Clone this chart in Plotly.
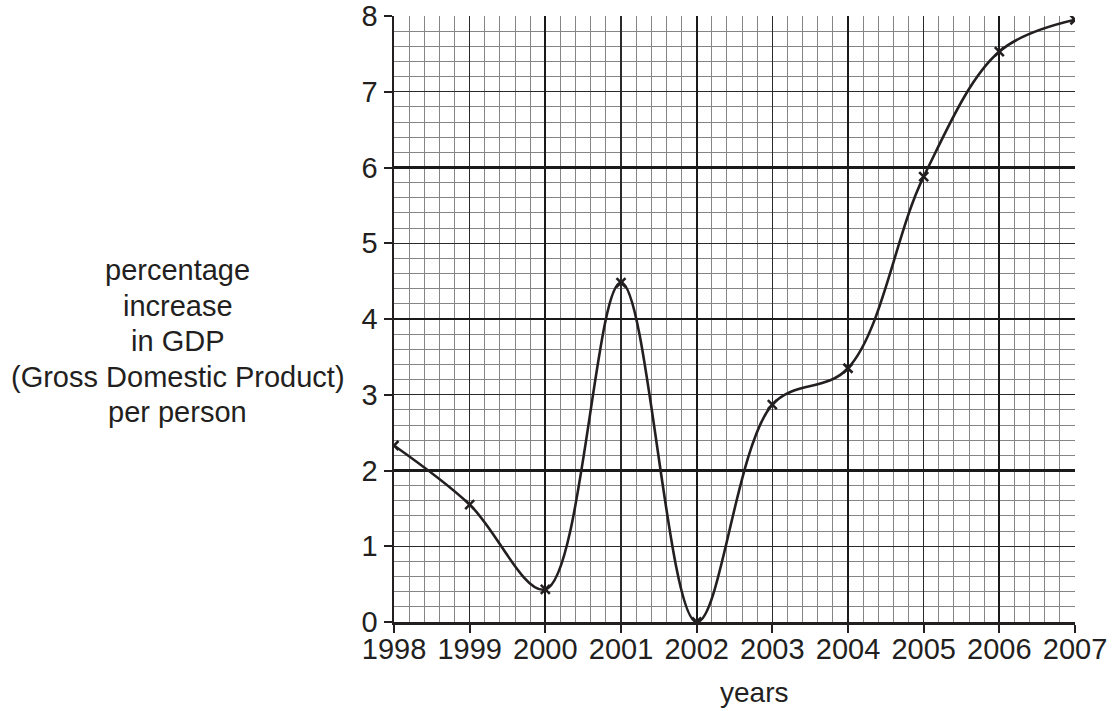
import plotly.graph_objects as go

years = [1998, 1999, 2000, 2001, 2002, 2003, 2004, 2005, 2006, 2007]
gdp_increase = [2.33, 1.55, 0.43, 4.48, 0.0, 2.87, 3.35, 5.88, 7.53, 7.95]
x_ticks = [1998, 1999, 2000, 2001, 2002, 2003, 2004, 2005, 2006, 2007]
y_ticks = [0, 1, 2, 3, 4, 5, 6, 7, 8]
x_title = "years"
y_title_lines = ["percentage", "increase", "in GDP", "(Gross Domestic Product)", "per person"]

INK = "#231f20"
FONT = "Liberation Sans, Arial, sans-serif"
XR = [x_ticks[0], x_ticks[-1]]
YR = [y_ticks[0], y_ticks[-1]]

W, H = 1115, 711
L, R, T, B = 394, 40, 16, 89

fig = go.Figure()
# empty traces so every grid layer subplot is drawn
fig.add_trace(go.Scatter(x=[], y=[], xaxis="x", yaxis="y", showlegend=False, hoverinfo="skip"))
fig.add_trace(go.Scatter(x=[], y=[], xaxis="x2", yaxis="y2", showlegend=False, hoverinfo="skip"))
fig.add_trace(go.Scatter(
    x=years, y=gdp_increase, mode="lines+markers",
    line=dict(color=INK, width=2.6, shape="spline", smoothing=1.0),
    marker=dict(symbol="x-thin", size=9, line=dict(color=INK, width=2.6), color=INK),
    xaxis="x3", yaxis="y3", showlegend=False, hoverinfo="skip",
))

def grid_axis(rng, step, color, width, **extra):
    d = dict(range=rng, tickmode="linear", tick0=rng[0], dtick=step,
             showgrid=True, gridcolor=color, gridwidth=width,
             showticklabels=False, ticks="", zeroline=False, showline=False,
             automargin=False, fixedrange=True)
    d.update(extra)
    return d

label_axis = dict(
    showticklabels=True,
    ticks="outside", ticklen=8, tickwidth=2, tickcolor=INK,
    showline=True, linecolor=INK, linewidth=2.5,
    tickfont=dict(size=29, color=INK, family=FONT),
    ticklabeloverflow="allow",
)

fig.update_layout(
    width=W, height=H,
    margin=dict(l=L, r=R, t=T, b=B, autoexpand=False),
    paper_bgcolor="white", plot_bgcolor="white",
    font=dict(family=FONT, color=INK, size=29),
    showlegend=False,
    # fine 0.2 grid
    xaxis=grid_axis(XR, 0.2, "#858585", 1),
    yaxis=grid_axis(YR, 0.2, "#858585", 1),
    # unit grid with ticks and labels
    xaxis2=grid_axis(XR, 1, "#2a2a2a", 1.3, overlaying="x", anchor="y2",
                     ticklabelstandoff=-8, **label_axis),
    yaxis2=grid_axis(YR, 1, "#2a2a2a", 1.3, overlaying="y", anchor="x2", **label_axis),
    # bold grid every 2 units
    xaxis3=grid_axis(XR, 2, "#1a1a1a", 2.2, overlaying="x", anchor="y3"),
    yaxis3=grid_axis(YR, 2, "#1a1a1a", 2.2, overlaying="y", anchor="x3"),
)

pw = W - L - R
ph = H - T - B
def px_x(p):
    return (p - L) / pw
def px_y(p):
    return 1 - (p - T) / ph

annotations = [
    dict(text=x_title, xref="paper", yref="paper", x=px_x(754), y=px_y(692),
         xanchor="center", yanchor="middle", showarrow=False,
         font=dict(size=28, color=INK, family=FONT)),
]
line_centers = [270, 305.5, 341, 376.5, 412]
for txt, cy in zip(y_title_lines, line_centers):
    annotations.append(dict(text=txt, xref="paper", yref="paper", x=px_x(177.5), y=px_y(cy),
                            xanchor="center", yanchor="middle", showarrow=False,
                            font=dict(size=29, color=INK, family=FONT)))
fig.update_layout(annotations=annotations)

fig.write_html("out.html", config={"displayModeBar": False, "staticPlot": True},
               post_script="document.body.style.margin='0';")
